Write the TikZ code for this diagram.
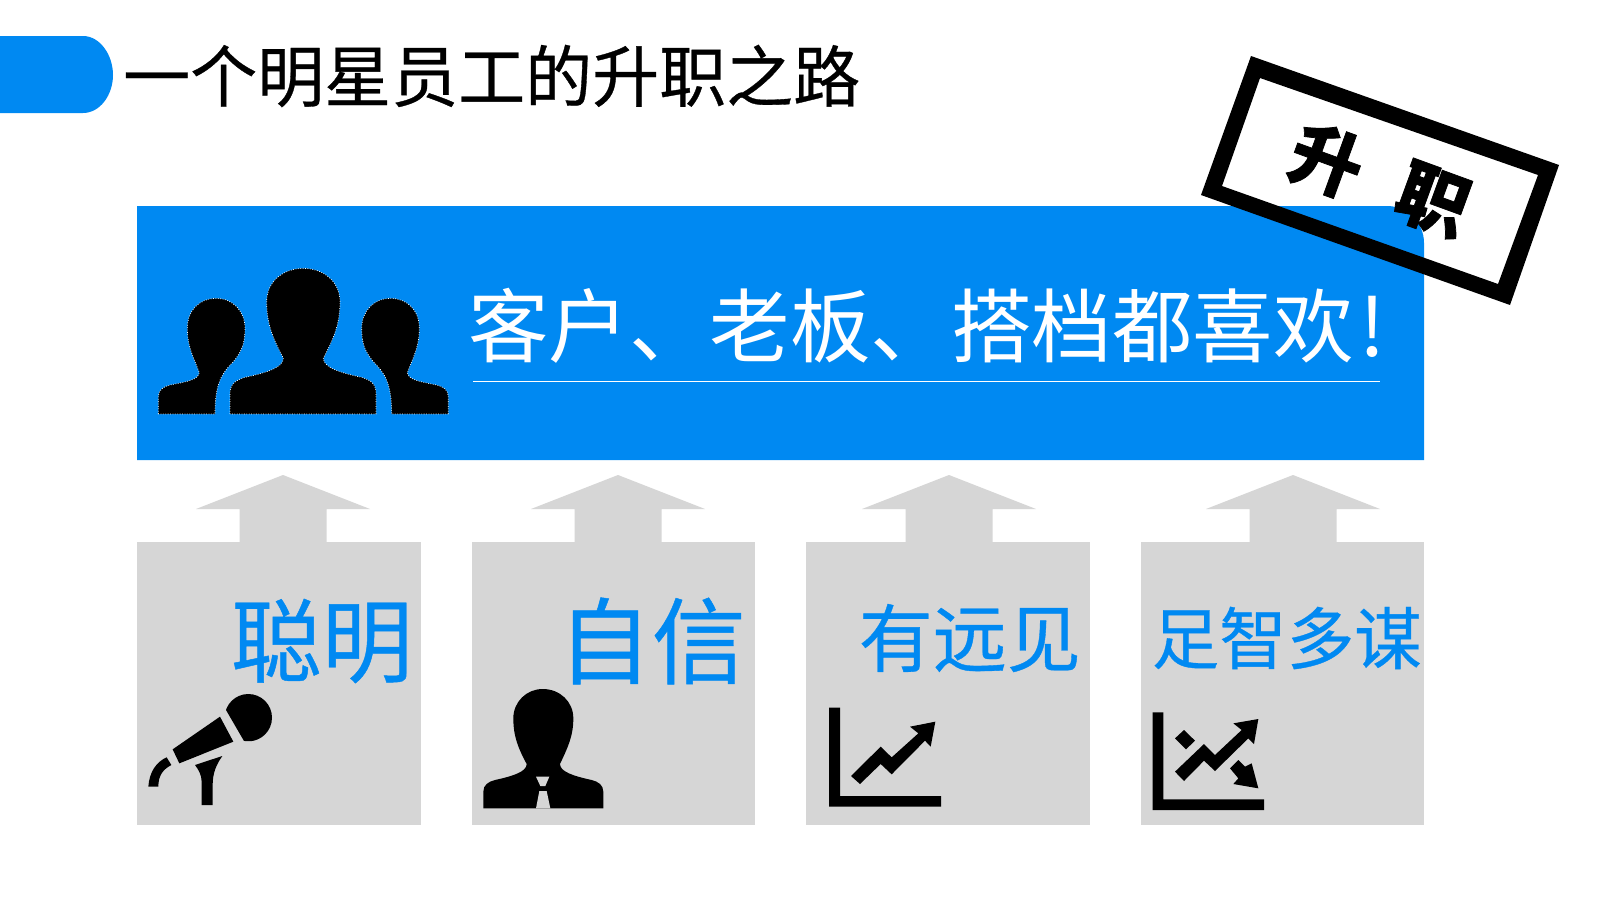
\documentclass[tikz,border=0pt]{standalone}
\usepackage{fontspec}
\setmainfont{Noto Sans CJK SC}
\newfontfamily\cjkmed[FakeBold=0.5]{Noto Sans CJK SC}
\newfontfamily\cjkheavy[FakeBold=1]{Noto Sans CJK SC Black}
\definecolor{brand}{HTML}{0089F2}
\definecolor{panel}{HTML}{D6D6D6}
\newcommand{\fs}[1]{\fontsize{#1pt}{#1pt}\selectfont}
\tikzset{
  x=1pt,y=-1pt,
  ico/.style={fill=black,draw=none},
  up/.style={fill=panel,draw=none},
  card/.style={fill=panel,draw=none},
  lbl/.style={text=brand,inner sep=0pt,anchor=east},
  sil/.style={fill=black,draw=white,dash pattern=on .8pt off 1.6pt,line width=.7pt},
}
\begin{document}
\begin{tikzpicture}
\useasboundingbox (0,0) rectangle (1600,900);
\fill[white] (0,0) rectangle (1600,900);
% title
\fill[brand] (0,36) -- (83,36) .. controls (100,36) and (113,55) .. (113,75) .. controls (113,95) and (100,113) .. (83,113) -- (0,113) -- cycle;
\node[inner sep=0pt,anchor=west] (title) at (123,76) {\cjkmed\fs{67}一个明星员工的升职之路};
% top panel
\fill[brand] (137,206) -- (1387,206) arc[start angle=-90,end angle=0,radius=37] -- (1424,460) -- (137,460) -- cycle;
\node[inner sep=0pt,anchor=west,text=white] (head) at (468,326) {\fs{80.5}客户、老板、搭档都喜欢\hspace{6pt}!};
\draw[white,line width=.7pt] (473,381) -- (1380,381);
% people
\begin{scope}[shift={(130,240)},scale=1/3]
\def\sidep{(85,522) -- (85,470) .. controls (85,450) and (100,440) .. (120,435) .. controls (170,425) and (205,420) .. (208,398) .. controls (190,350) and (172,320) .. (172,265) .. controls (172,210) and (210,175) .. (258,175) .. controls (310,175) and (345,215) .. (345,265) .. controls (345,310) and (335,335) .. (310,365) .. controls (275,400) and (255,430) .. (255,522) -- cycle}
\draw[sil] \sidep;
\begin{scope}[shift={(1040,0)},xscale=-1]
\draw[sil] \sidep;
\end{scope}
\draw[sil] (300,522) -- (300,460) .. controls (300,430) and (320,420) .. (345,412) .. controls (400,400) and (460,385) .. (460,355) .. controls (435,305) and (410,260) .. (410,185) .. controls (410,125) and (460,85) .. (520,85) .. controls (580,85) and (630,125) .. (630,185) .. controls (630,260) and (605,305) .. (580,355) .. controls (580,385) and (640,400) .. (695,412) .. controls (720,420) and (738,430) .. (738,460) -- (738,522) -- cycle;
\end{scope}
% stamp
\fill[black,even odd rule] (1251,56) -- (1559,165) -- (1510,305) -- (1201,195) -- cycle
  (1260,78) -- (1538,175) -- (1498,284) -- (1222,186) -- cycle;
\node[rotate=-20,inner sep=0pt] (s1) at (1327,160) {\cjkheavy\fs{72}升};
\node[rotate=-20,inner sep=0pt] (s2) at (1433,200) {\cjkheavy\fs{72}职};
% up arrows
\foreach \c in {283,618,949,1293}{
  \fill[up] (\c,475) -- (\c+87,509) -- (\c+43.5,509) -- (\c+43.5,545) -- (\c-43.5,545) -- (\c-43.5,509) -- (\c-87,509) -- cycle;
}
% cards
\fill[card] (137,542) rectangle (421,825);
\fill[card] (472,542) rectangle (755,825);
\fill[card] (806,542) rectangle (1090,825);
\fill[card] (1141,542) rectangle (1424,825);
\node[lbl] (a) at (413,641) {\cjkmed\fs{91}聪明};
\node[lbl] (b) at (746,641) {\cjkmed\fs{94}自信};
\node[lbl] (c) at (1081,638) {\cjkmed\fs{74}有远见};
\node[lbl] (d) at (1422,638) {\cjkmed\fs{67.5}足智多谋};
% mic + person
\begin{scope}[shift={(130,660)},scale=1/3]
\begin{scope}
\clip (288,150) -- (342,243) -- (480,243) -- (480,60) -- (288,60) -- cycle;
\fill[ico] (355,173) circle[radius=71];
\end{scope}
\fill[ico] (128,268) -- (270,170) -- (310,245) -- (148,310) -- cycle;
\fill[ico] (110,292) -- (124,315) .. controls (100,328) and (85,345) .. (85,380) -- (55,380) .. controls (58,335) and (80,305) .. (110,292) -- cycle;
\fill[ico] (195,315) -- (277,288) .. controls (258,315) and (248,340) .. (248,375) -- (248,435) -- (215,435) -- (215,365) .. controls (215,345) and (205,328) .. (195,315) -- cycle;
\fill[ico] (1060,445) -- (1060,395) .. controls (1060,375) and (1075,365) .. (1095,360) .. controls (1150,348) and (1190,335) .. (1190,312) .. controls (1165,265) and (1150,230) .. (1150,175) .. controls (1150,125) and (1190,87) .. (1238,87) .. controls (1290,87) and (1330,125) .. (1330,175) .. controls (1330,230) and (1312,265) .. (1290,312) .. controls (1290,335) and (1330,348) .. (1385,360) .. controls (1405,365) and (1420,375) .. (1420,395) -- (1420,445) -- cycle;
\fill[panel] (1218,350) -- (1258,350) -- (1246,378) -- (1231,378) -- cycle;
\fill[panel] (1228,393) -- (1250,393) -- (1261,445) -- (1218,445) -- cycle;
\end{scope}
% charts
\begin{scope}[shift={(790,670)},scale=1/3]
\fill[ico] (117,113) -- (150,113) -- (150,378) -- (453,378) -- (453,410) -- (117,410) -- cycle;
\fill[ico] (183,318) -- (272,230) -- (305,262) -- (385,190) -- (360,170) -- (436,155) -- (422,230) -- (405,212) -- (305,313) -- (272,282) -- (210,342) -- cycle;
\fill[ico] (1088,127) -- (1120,127) -- (1120,388) -- (1422,388) -- (1422,420) -- (1088,420) -- cycle;
\fill[ico] (1155,305) -- (1242,222) -- (1275,255) -- (1355,180) -- (1330,160) -- (1405,147) -- (1392,222) -- (1375,205) -- (1275,303) -- (1242,272) -- (1182,333) -- cycle;
\fill[ico] (1182,180) -- (1215,212) -- (1188,238) -- (1155,205) -- cycle;
\fill[ico] (1345,270) -- (1365,290) -- (1385,280) -- (1405,355) -- (1330,342) -- (1345,325) -- (1320,295) -- cycle;
\end{scope}
\end{tikzpicture}
\end{document}
